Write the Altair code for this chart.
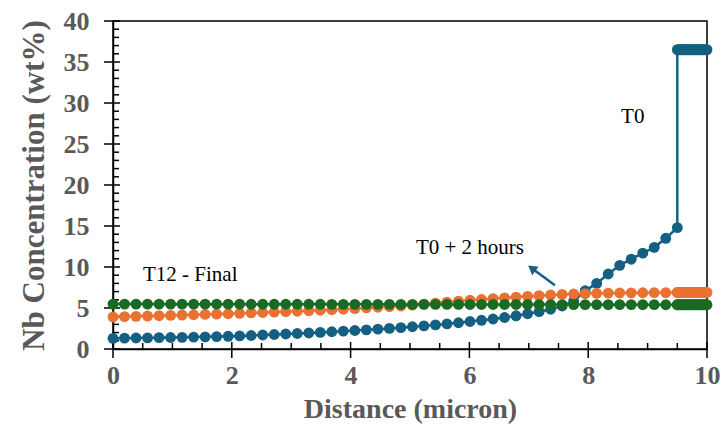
import altair as alt
import numpy as np
import pandas as pd

# ---------------- data ----------------
# regular measurement grid (50 points from 0 to 9.5 micron) and the dense tail (9.5 -> 10 micron)
x_main = np.round(np.linspace(0, 9.5, 50), 4)
x_tail = np.round(np.arange(9.5, 10.0001, 0.02), 2)

t0_main = [1.30, 1.32, 1.34, 1.36, 1.38, 1.40, 1.42, 1.45, 1.48, 1.51,
           1.55, 1.60, 1.65, 1.71, 1.77, 1.83, 1.89, 1.95, 2.02, 2.10,
           2.18, 2.26, 2.34, 2.42, 2.51, 2.60, 2.71, 2.82, 2.94, 3.06,
           3.20, 3.35, 3.50, 3.66, 3.84, 4.05, 4.30, 4.55, 4.85, 5.25,
           5.85, 7.10, 8.00, 9.15, 10.20, 10.95, 11.70, 12.40, 13.50, 14.80]
t0_tail_level = 36.5

t2_main = [3.90, 3.94, 3.98, 4.02, 4.06, 4.10, 4.14, 4.18, 4.22, 4.26,
           4.30, 4.35, 4.40, 4.45, 4.50, 4.55, 4.61, 4.67, 4.73, 4.79,
           4.85, 4.93, 5.01, 5.09, 5.17, 5.25, 5.36, 5.48, 5.60, 5.72,
           5.84, 5.94, 6.04, 6.14, 6.24, 6.33, 6.42, 6.50, 6.58, 6.66,
           6.72, 6.76, 6.79, 6.81, 6.83, 6.85, 6.86, 6.87, 6.88, 6.89]
t2_tail_level = 6.9

t12_main = [5.48, 5.48, 5.48, 5.48, 5.48, 5.47, 5.47, 5.47, 5.47, 5.47,
            5.47, 5.47, 5.46, 5.46, 5.46, 5.46, 5.46, 5.46, 5.46, 5.45,
            5.45, 5.45, 5.45, 5.45, 5.45, 5.44, 5.44, 5.44, 5.44, 5.44,
            5.44, 5.43, 5.43, 5.43, 5.43, 5.43, 5.43, 5.42, 5.42, 5.42,
            5.42, 5.42, 5.42, 5.41, 5.41, 5.41, 5.41, 5.41, 5.40, 5.40]
t12_tail_level = 5.4

series_colors = ["#156082", "#E97132", "#196B24"]

labels_text = ["T0", "T0 + 2 hours", "T12 - Final"]
labels_x = [8.75, 6.01, 1.30]
labels_y = [28.3, 12.28, 9.02]

arrow_x = [7.44]
arrow_y = [7.77]
arrow_x2 = [7.05]
arrow_y2 = [9.85]

x_major = [0, 2, 4, 6, 8, 10]
x_minor = [0.5, 1, 1.5, 2.5, 3, 3.5, 4.5, 5, 5.5, 6.5, 7, 7.5, 8.5, 9, 9.5]
y_major = [0, 5, 10, 15, 20, 25, 30, 35, 40]
y_minor = [v for v in range(1, 40) if v % 5 != 0]

# ---------------- layout ----------------
W, H = 594, 328
FONT = "Liberation Serif"
GRAY = "#595959"

x_axis = alt.Axis(values=x_major, format="d", title="Distance (micron)", grid=False,
                  ticks=True, tickSize=9, tickWidth=1.5, tickColor="transparent",
                  domainColor="black", domainWidth=1.5,
                  labelFont=FONT, labelFontSize=26, labelFontWeight="bold",
                  labelColor=GRAY, labelPadding=4, labelFlush=False, labelOverlap=False,
                  titleFont=FONT, titleFontSize=28, titleFontWeight="bold",
                  titleColor=GRAY, titlePadding=7)
y_axis = alt.Axis(values=y_major, format="d", title="Nb Concentration (wt%)", grid=False,
                  ticks=True, tickSize=9, tickWidth=1.5, tickColor="transparent",
                  domainColor="black", domainWidth=1.5,
                  labelFont=FONT, labelFontSize=26, labelFontWeight="bold",
                  labelColor=GRAY, labelPadding=15, labelFlush=False, labelOverlap=False,
                  titleFont=FONT, titleFontSize=31, titleFontWeight="bold",
                  titleColor=GRAY, titlePadding=13)

xenc = alt.X("x:Q", scale=alt.Scale(domain=[0, 10], nice=False, zero=False), axis=x_axis)
yenc = alt.Y("y:Q", scale=alt.Scale(domain=[0, 40], nice=False), axis=y_axis)


def series_df(main, tail_level):
    xs = list(x_main) + list(x_tail)
    ys = list(main) + [tail_level] * len(x_tail)
    return pd.DataFrame({"x": xs, "y": ys, "i": list(range(len(xs)))})


layers = []

# tick marks: major ticks cross the axis line, minor ticks point inside
layers.append(alt.Chart(pd.DataFrame({"x": x_major})).mark_rule(color="black", strokeWidth=1.5)
              .encode(x=xenc, y=alt.value(H + 9), y2=alt.value(H - 7)))
layers.append(alt.Chart(pd.DataFrame({"x": x_minor})).mark_rule(color="black", strokeWidth=1.5)
              .encode(x=xenc, y=alt.value(H), y2=alt.value(H - 6)))
layers.append(alt.Chart(pd.DataFrame({"y": y_major})).mark_rule(color="black", strokeWidth=1.5)
              .encode(y=yenc, x=alt.value(-9), x2=alt.value(7)))
layers.append(alt.Chart(pd.DataFrame({"y": y_minor})).mark_rule(color="black", strokeWidth=1.5)
              .encode(y=yenc, x=alt.value(0), x2=alt.value(6)))

for main, tail, col in [(t0_main, t0_tail_level, series_colors[0]),
                        (t2_main, t2_tail_level, series_colors[1]),
                        (t12_main, t12_tail_level, series_colors[2])]:
    df = series_df(main, tail)
    layers.append(alt.Chart(df).mark_line(color=col, strokeWidth=2.5)
                  .encode(x=xenc, y=yenc, order="i:Q"))
    layers.append(alt.Chart(df).mark_circle(color=col, size=118, opacity=1)
                  .encode(x=xenc, y=yenc))

# annotation texts
lab_df = pd.DataFrame({"x": labels_x, "y": labels_y, "label": labels_text})
layers.append(alt.Chart(lab_df).mark_text(font=FONT, fontSize=21, color="black",
                                          align="center", baseline="middle")
              .encode(x=xenc, y=yenc, text="label:N"))

# arrow
arr_df = pd.DataFrame({"x": arrow_x, "y": arrow_y, "x2": arrow_x2, "y2": arrow_y2})
layers.append(alt.Chart(arr_df).mark_rule(color=series_colors[0], strokeWidth=2.5)
              .encode(x=xenc, y=yenc, x2="x2:Q", y2="y2:Q"))
head_df = pd.DataFrame({"x": arrow_x2, "y": arrow_y2})
layers.append(alt.Chart(head_df).mark_point(shape="triangle-up", filled=True, size=110,
                                            angle=307, color=series_colors[0], opacity=1)
              .encode(x=xenc, y=yenc))

chart = alt.layer(*layers).properties(
    width=W, height=H,
    autosize=alt.AutoSizeParams(type="none"),
    padding={"left": 113, "top": 21, "right": 17, "bottom": 83},
    background="white",
).configure_view(stroke="black", strokeWidth=1.5)

chart.save("out.html", embed_options={"renderer": "svg", "actions": False})
